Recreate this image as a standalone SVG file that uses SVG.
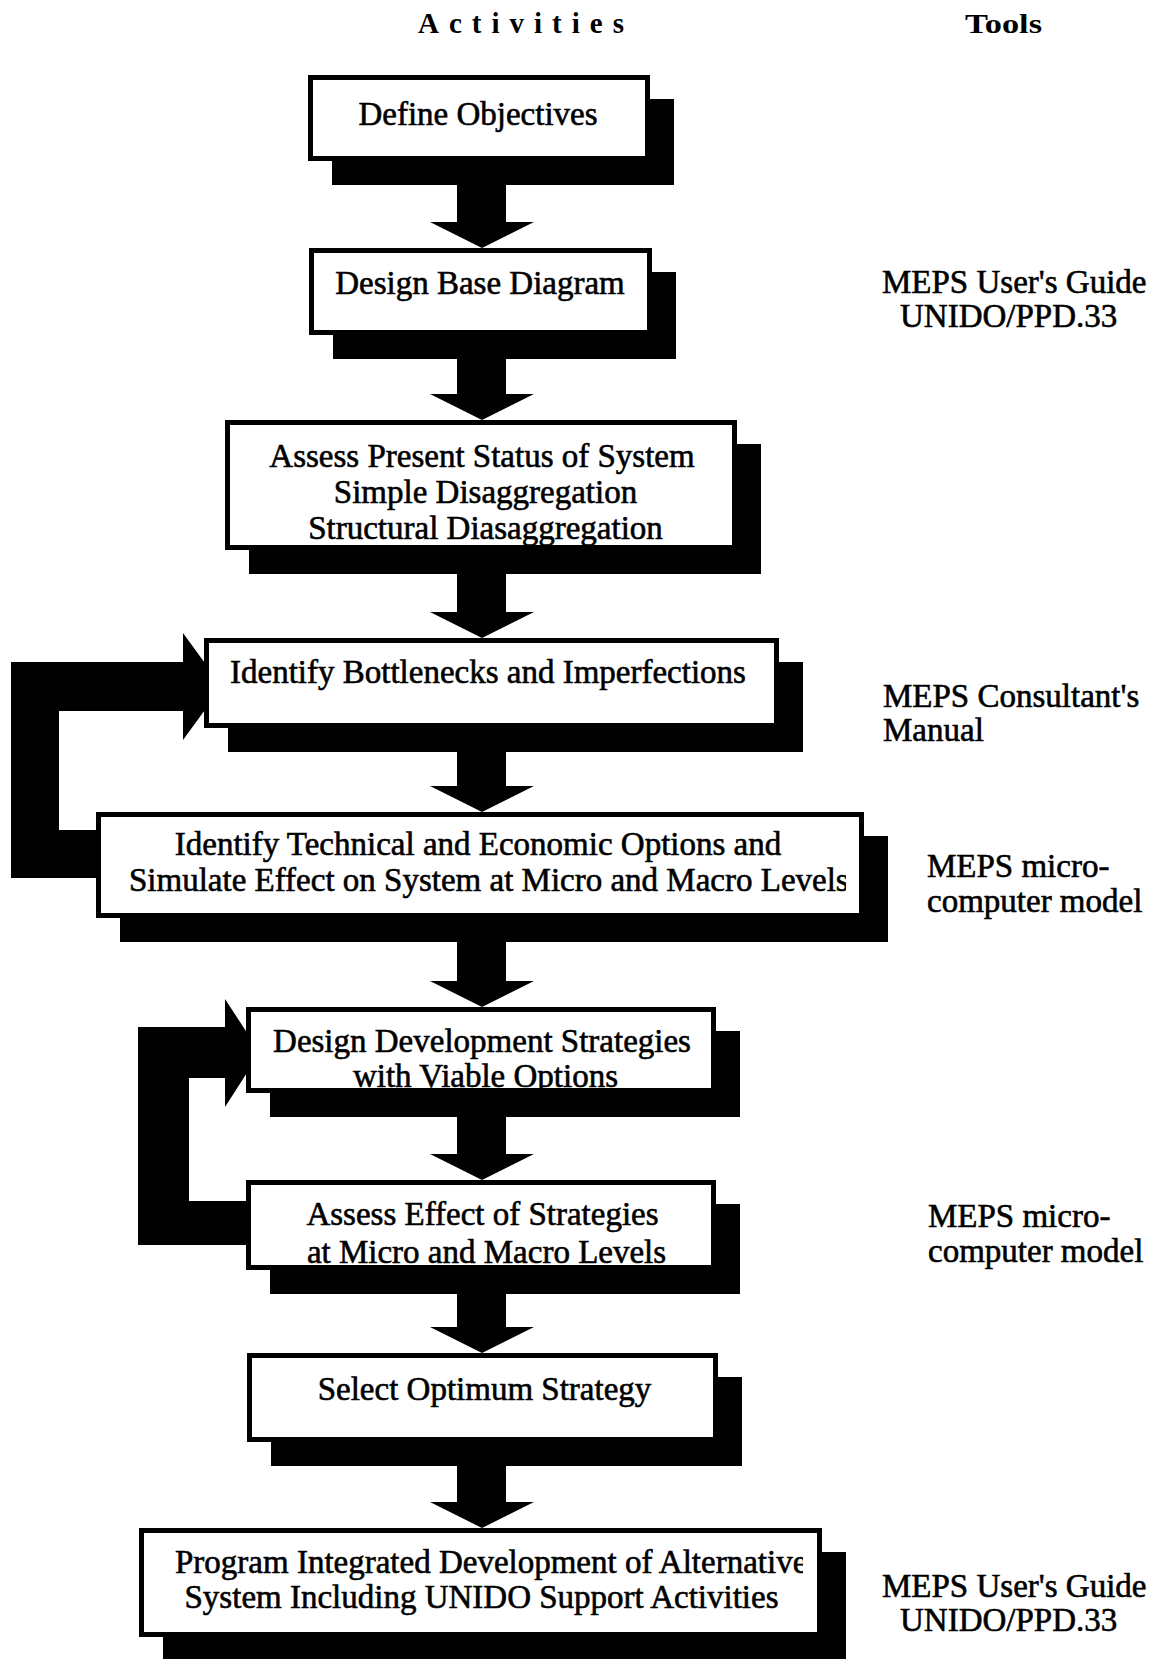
<svg xmlns="http://www.w3.org/2000/svg" width="1157" height="1659" viewBox="0 0 1157 1659">
<style>
.bg{fill:#fff}
.box{fill:#fff;stroke:#000;stroke-width:5}
.sh{fill:#000}
.con{fill:#000}
.t{font-family:"Liberation Serif","Times New Roman",serif;font-size:33px;fill:#000;stroke:#000;stroke-width:0.6;text-anchor:middle}
.s{text-anchor:start}
.h{font-family:"Liberation Serif","Times New Roman",serif;font-weight:bold;fill:#000}
</style>
<defs>
<clipPath id="c5"><rect x="0" y="850" width="846" height="60"/></clipPath>
<clipPath id="c9"><rect x="0" y="1530" width="803" height="60"/></clipPath>
</defs>
<rect class="bg" x="0" y="0" width="1157" height="1659"/>

<g id="headers">
<text class="h" x="418" y="33" font-size="29" letter-spacing="10">Activities</text>
<text class="h" x="965" y="33" font-size="28" textLength="77" lengthAdjust="spacingAndGlyphs">Tools</text>
</g>

<g id="connectors">
<path class="con" d="M457 160H506V222H534L482 248L430 222H457Z"/>
<path class="con" d="M457 335H506V394H534L482 420L430 394H457Z"/>
<path class="con" d="M457 550H506V612H534L482 638L430 612H457Z"/>
<path class="con" d="M457 728H506V786H534L482 812L430 786H457Z"/>
<path class="con" d="M457 918H506V981H534L482 1007L430 981H457Z"/>
<path class="con" d="M457 1093H506V1154H534L482 1180L430 1154H457Z"/>
<path class="con" d="M457 1270H506V1327H534L482 1353L430 1327H457Z"/>
<path class="con" d="M457 1442H506V1502H534L482 1528L430 1502H457Z"/>
<path class="con" d="M183 662H11V878H140V830H59V711H183ZM183 633L222 686.5L183 740Z"/>
<path class="con" d="M225 1027H138V1245H270V1201H189V1078H225ZM225 999L260 1052.5L225 1107Z"/>
</g>

<g id="n1">
<rect class="sh" x="332" y="99" width="342" height="86"/>
<rect class="box" x="310.5" y="77.5" width="337" height="81"/>
<text class="t" x="478" y="125">Define Objectives</text>
</g>
<g id="n2">
<rect class="sh" x="333" y="272" width="343" height="87"/>
<rect class="box" x="311.5" y="250.5" width="338" height="82"/>
<text class="t" x="480" y="294">Design Base Diagram</text>
</g>
<g id="n3">
<rect class="sh" x="249" y="444" width="512" height="130"/>
<rect class="box" x="227.5" y="422.5" width="507" height="125"/>
<text class="t" x="482" y="467">Assess Present Status of System</text>
<text class="t" x="485.5" y="503">Simple Disaggregation</text>
<text class="t" x="485.5" y="539">Structural Diasaggregation</text>
</g>
<g id="n4">
<rect class="sh" x="228" y="662" width="575" height="90"/>
<rect class="box" x="206.5" y="640.5" width="570" height="85"/>
<text class="t" x="488" y="683">Identify Bottlenecks and Imperfections</text>
</g>
<g id="n5">
<rect class="sh" x="120" y="836" width="768" height="106"/>
<rect class="box" x="98.5" y="814.5" width="763" height="101"/>
<text class="t" x="478" y="855">Identify Technical and Economic Options and</text>
<text class="t s" x="129" y="891" clip-path="url(#c5)">Simulate Effect on System at Micro and Macro Levels</text>
</g>
<g id="n6">
<rect class="sh" x="270" y="1031" width="470" height="86"/>
<rect class="box" x="248.5" y="1009.5" width="465" height="81"/>
<text class="t" x="482" y="1052">Design Development Strategies</text>
<text class="t" x="485.5" y="1087">with Viable Options</text>
</g>
<g id="n7">
<rect class="sh" x="270" y="1204" width="470" height="90"/>
<rect class="box" x="248.5" y="1182.5" width="465" height="85"/>
<text class="t" x="482.5" y="1225">Assess Effect of Strategies</text>
<text class="t" x="486.5" y="1263">at Micro and Macro Levels</text>
</g>
<g id="n8">
<rect class="sh" x="271" y="1377" width="471" height="89"/>
<rect class="box" x="249.5" y="1355.5" width="466" height="84"/>
<text class="t" x="484.5" y="1400">Select Optimum Strategy</text>
</g>
<g id="n9">
<rect class="sh" x="163" y="1552" width="683" height="109"/>
<rect class="box" x="141.5" y="1530.5" width="678" height="104"/>
<text class="t s" x="175" y="1573" clip-path="url(#c9)">Program Integrated Development of Alternative</text>
<text class="t" x="481.5" y="1608">System Including UNIDO Support Activities</text>
</g>

<g id="tools">
<text class="t s" x="882" y="293">MEPS User's Guide</text>
<text class="t s" x="900" y="327">UNIDO/PPD.33</text>
<text class="t s" x="883" y="707">MEPS Consultant's</text>
<text class="t s" x="883" y="741">Manual</text>
<text class="t s" x="927" y="877">MEPS micro-</text>
<text class="t s" x="927" y="912">computer model</text>
<text class="t s" x="928" y="1227">MEPS micro-</text>
<text class="t s" x="928" y="1262">computer model</text>
<text class="t s" x="882" y="1597">MEPS User's Guide</text>
<text class="t s" x="900" y="1631">UNIDO/PPD.33</text>
</g>
</svg>
